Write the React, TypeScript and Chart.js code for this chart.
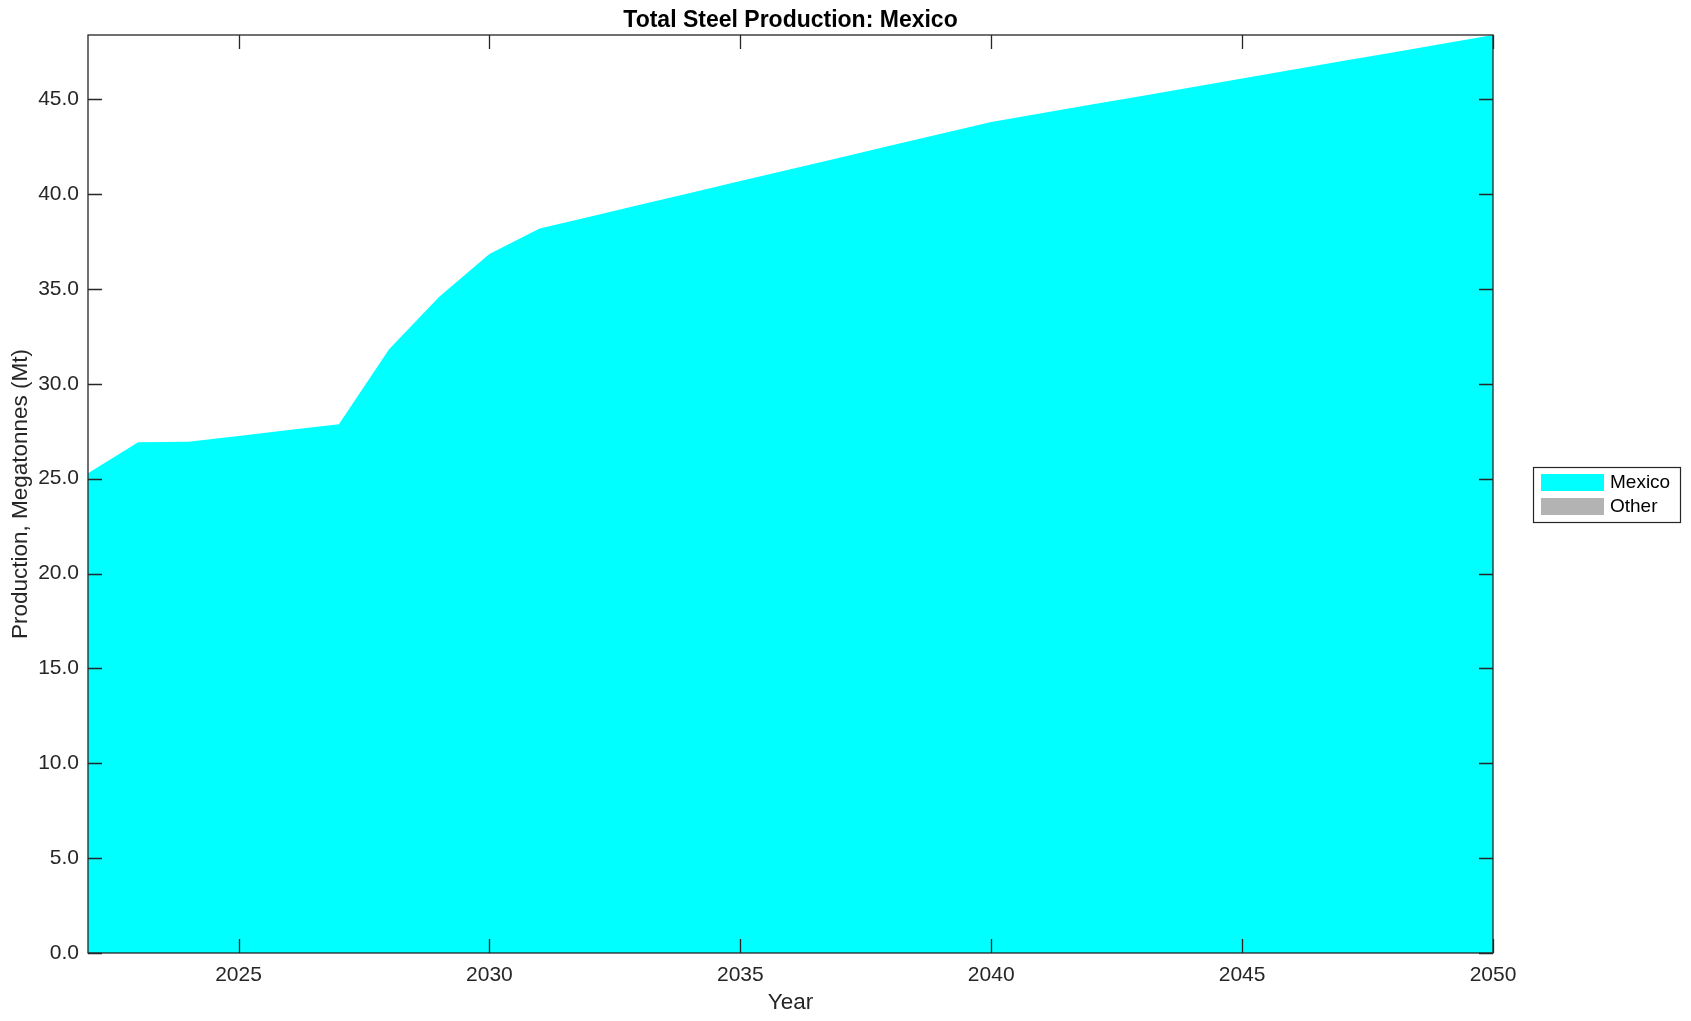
import React, { useEffect, useRef } from "react";
import { Chart, registerables } from "chart.js";

Chart.register(...registerables);

const years = [2022, 2023, 2024, 2025, 2026, 2027, 2028, 2029, 2030, 2031, 2032, 2033, 2034, 2035, 2036, 2037, 2038, 2039, 2040, 2041, 2042, 2043, 2044, 2045, 2046, 2047, 2048, 2049, 2050];
const mexico = [25.29, 26.92, 26.94, 27.25, 27.56, 27.87, 31.82, 34.59, 36.84, 38.18, 38.80, 39.43, 40.05, 40.68, 41.30, 41.93, 42.55, 43.18, 43.80, 44.26, 44.72, 45.17, 45.63, 46.09, 46.55, 47.01, 47.46, 47.92, 48.38];
const other = [0, 0, 0, 0, 0, 0, 0, 0, 0, 0, 0, 0, 0, 0, 0, 0, 0, 0, 0, 0, 0, 0, 0, 0, 0, 0, 0, 0, 0];
const xTicks = [2025, 2030, 2035, 2040, 2045, 2050];
const yTicks = [0, 5, 10, 15, 20, 25, 30, 35, 40, 45];
const seriesNames = ["Mexico", "Other"];
const seriesColors = ["#00ffff", "#b3b3b3"];
const titleText = "Total Steel Production: Mexico";
const xLabel = "Year";
const yLabel = "Production, Megatonnes (Mt)";

const FONT = "'Liberation Sans', Arial, Helvetica, sans-serif";
const AXIS = "#262626";

const decorPlugin = {
  id: "decor",
  afterDraw(chart: any) {
    const { ctx, chartArea: a, scales } = chart;
    const xs = scales.x;
    const ys = scales.y;
    ctx.save();
    ctx.strokeStyle = AXIS;
    ctx.lineWidth = 1.3;
    ctx.strokeRect(a.left, a.top, a.right - a.left, a.bottom - a.top);
    const tl = 14;
    ctx.beginPath();
    xTicks.forEach((v) => {
      const px = Math.round(xs.getPixelForValue(v)) + 0.5;
      ctx.moveTo(px, a.bottom);
      ctx.lineTo(px, a.bottom - tl);
      ctx.moveTo(px, a.top);
      ctx.lineTo(px, a.top + tl);
    });
    yTicks.forEach((v) => {
      const py = Math.round(ys.getPixelForValue(v)) + 0.5;
      ctx.moveTo(a.left, py);
      ctx.lineTo(a.left + tl, py);
      ctx.moveTo(a.right, py);
      ctx.lineTo(a.right - tl, py);
    });
    ctx.stroke();

    // title
    ctx.fillStyle = "#000";
    ctx.font = `bold 23px ${FONT}`;
    ctx.textAlign = "center";
    ctx.textBaseline = "middle";
    ctx.fillText(titleText, (a.left + a.right) / 2, 21);

    // axis labels
    ctx.fillStyle = AXIS;
    ctx.font = `22.5px ${FONT}`;
    ctx.fillText(xLabel, (a.left + a.right) / 2, 1003);
    ctx.save();
    ctx.translate(21, (a.top + a.bottom) / 2);
    ctx.rotate(-Math.PI / 2);
    ctx.fillText(yLabel, 0, 0);
    ctx.restore();

    // legend
    const lx = 1533, ly = 467, lw = 147, lh = 55;
    ctx.fillStyle = "#fff";
    ctx.fillRect(lx, ly, lw, lh);
    ctx.strokeStyle = AXIS;
    ctx.lineWidth = 1.2;
    ctx.strokeRect(lx + 0.5, ly + 0.5, lw, lh);
    ctx.font = `19px ${FONT}`;
    ctx.textAlign = "left";
    ctx.textBaseline = "middle";
    seriesNames.forEach((name, i) => {
      const sy = 474 + i * 24;
      ctx.fillStyle = seriesColors[i];
      ctx.fillRect(1541, sy, 63, 17);
      ctx.fillStyle = "#000";
      ctx.fillText(name, 1610, sy + 9);
    });
    ctx.restore();
  },
};

export default function App() {
  const ref = useRef<HTMLCanvasElement | null>(null);
  useEffect(() => {
    document.body.style.margin = "0";
    const canvas = ref.current!;
    const series = [mexico, other];
    const chart = new Chart(canvas, {
      type: "line",
      data: {
        labels: years,
        datasets: series.map((vals, i) => ({
          label: seriesNames[i],
          data: years.map((y, j) => ({ x: y, y: vals[j] })),
          backgroundColor: seriesColors[i],
          borderColor: seriesColors[i],
          borderWidth: 0,
          pointRadius: 0,
          tension: 0,
          fill: i === 0 ? "origin" : "-1",
        })),
      },
      options: {
        animation: false,
        responsive: false,
        devicePixelRatio: 1,
        layout: { padding: { left: 0, top: 35, right: 198, bottom: 0 } },
        plugins: { legend: { display: false }, title: { display: false }, tooltip: { enabled: false } },
        scales: {
          x: {
            type: "linear",
            min: years[0],
            max: years[years.length - 1],
            grid: { display: false, drawTicks: false },
            border: { display: false },
            afterBuildTicks: (s: any) => { s.ticks = xTicks.map((v) => ({ value: v })); },
            afterFit: (s: any) => { s.height = 68; },
            ticks: {
              padding: 10,
              color: AXIS,
              font: { family: FONT, size: 21 },
              maxRotation: 0,
              autoSkip: false,
              callback: (v: any) => String(v),
            },
          },
          y: {
            type: "linear",
            stacked: true,
            min: 0,
            max: mexico[mexico.length - 1],
            grid: { display: false, drawTicks: false },
            border: { display: false },
            afterBuildTicks: (s: any) => { s.ticks = yTicks.map((v) => ({ value: v })); },
            afterFit: (s: any) => { s.width = 88; },
            ticks: {
              padding: 9,
              color: AXIS,
              font: { family: FONT, size: 21 },
              autoSkip: false,
              callback: (v: any) => Number(v).toFixed(1),
            },
          },
        },
      },
      plugins: [decorPlugin],
    });
    return () => chart.destroy();
  }, []);
  return (
    <div style={{ width: 1691, height: 1021, background: "#fff" }}>
      <canvas ref={ref} width={1691} height={1021} />
    </div>
  );
}
